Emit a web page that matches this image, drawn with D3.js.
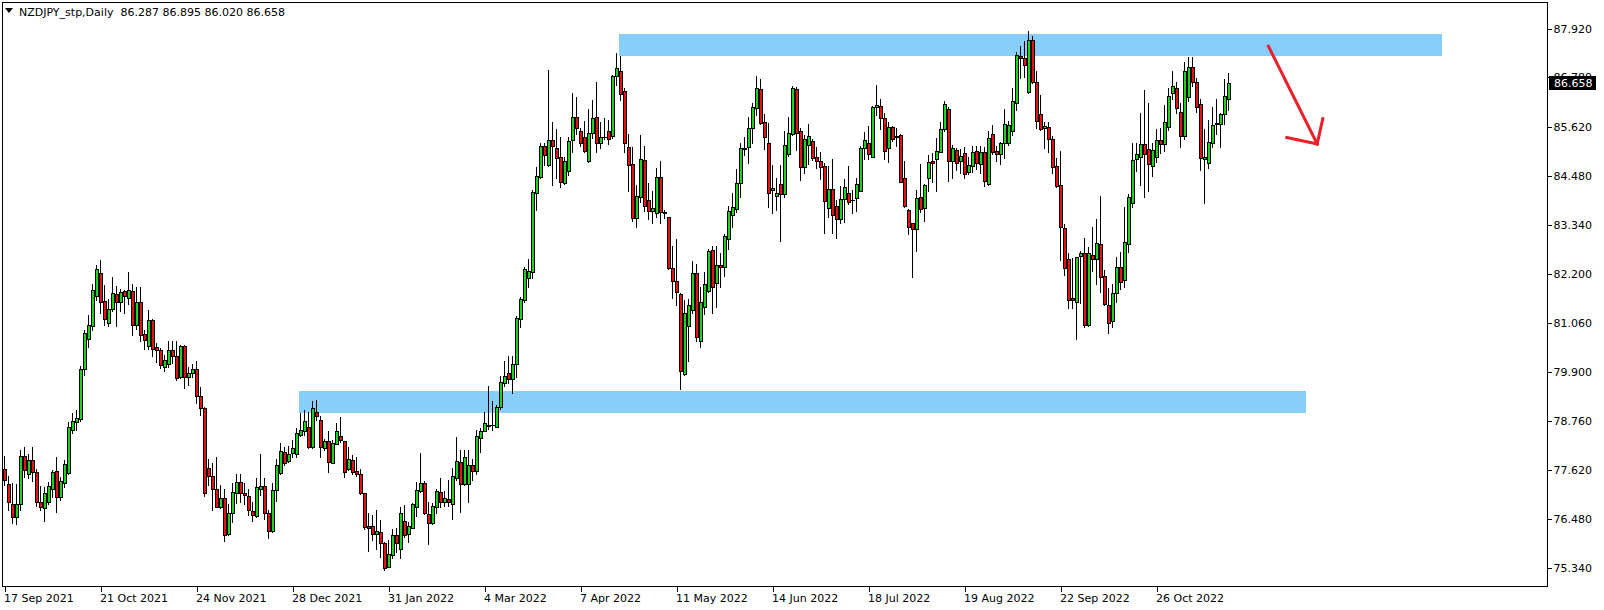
<!DOCTYPE html>
<html><head><meta charset="utf-8">
<script src="https://cdn.jsdelivr.net/npm/d3@7"></script>
<style>
html,body{margin:0;padding:0;background:#fff;}
svg{display:block;}
text{font-family:"DejaVu Sans",sans-serif;}
</style></head>
<body>
<svg id="chart" width="1604" height="610"></svg>
<script>
// ---- DATA ----
const symbolTitle = "NZDJPY_stp,Daily";
const open = [
77.64,77.30,76.84,76.52,76.84,77.95,77.53,77.86,77.57,76.87,
76.73,76.88,77.17,77.61,77.00,77.31,77.56,78.56,78.73,78.80,
79.97,80.67,80.99,81.67,82.21,81.57,81.06,81.37,81.73,81.55,
81.80,81.63,81.80,81.00,81.55,80.80,80.52,81.11,80.48,80.42,
80.03,80.10,80.41,80.28,79.78,80.52,79.80,79.89,79.97,79.35,
79.06,77.66,77.48,77.18,76.77,76.96,76.13,76.61,77.08,77.35,
77.08,77.01,76.66,76.55,77.19,77.25,76.62,76.20,77.15,77.56,
78.05,77.84,78.01,77.99,78.45,78.54,78.62,78.17,78.97,78.79,
78.14,78.31,77.79,78.24,78.41,78.30,77.65,77.85,77.60,77.53,
77.08,76.32,76.31,76.14,76.17,75.93,75.37,75.65,76.10,75.77,
76.43,76.14,76.28,76.77,77.14,77.31,76.59,76.38,76.77,77.11,
76.87,76.94,76.84,77.44,77.81,77.29,77.30,77.75,77.60,78.37,
78.53,78.65,78.66,78.63,79.08,79.66,79.88,79.74,80.09,81.14,
81.59,82.11,82.23,84.09,84.45,85.17,84.74,85.31,85.13,84.92,
84.31,84.60,85.31,85.85,85.52,85.40,84.82,85.49,85.85,85.24,
85.38,85.53,85.42,86.82,86.93,86.46,85.15,84.76,83.49,84.00,
84.85,83.92,83.67,83.61,84.45,83.63,83.52,82.33,82.02,81.72,
79.86,80.97,81.35,82.21,80.62,81.43,81.80,82.75,81.99,82.40,
82.35,83.00,83.57,83.71,84.31,85.11,85.16,85.59,86.06,86.51,
85.73,85.24,84.15,84.02,84.29,84.05,84.99,85.46,86.50,85.53,
84.68,85.20,85.30,84.92,84.83,84.71,83.73,84.17,83.78,83.47,
83.94,84.08,83.91,83.96,84.14,85.13,85.24,84.93,86.08,86.11,
85.83,85.13,85.63,85.39,85.44,84.43,83.69,83.38,83.24,84.00,
83.73,84.43,84.83,84.87,85.05,85.57,86.04,84.84,85.09,84.84,
85.01,84.58,84.72,85.06,84.76,85.03,84.29,85.46,85.06,84.99,
85.24,85.24,85.54,86.18,87.28,87.23,86.45,87.65,86.67,85.92,
85.59,85.62,85.34,84.71,84.27,83.26,82.54,81.63,81.53,82.62,
82.68,81.00,82.64,82.54,82.89,82.15,81.47,81.10,81.75,82.35,
82.05,82.90,83.84,84.87,84.92,85.22,85.10,84.71,84.92,85.32,
85.22,85.62,86.41,86.53,85.97,85.42,86.33,87.02,86.68,86.16,
84.88,84.78,85.24,85.69,85.69,85.92,86.287
];
const high = [
77.95,77.48,77.33,77.30,78.10,78.17,78.00,78.15,77.64,77.25,
77.23,77.35,77.62,77.92,77.47,77.86,78.73,78.96,79.02,80.05,
80.89,81.24,81.96,82.40,82.52,81.94,81.60,82.13,81.91,81.84,
81.82,82.23,81.96,81.90,81.90,80.89,81.35,81.14,80.59,80.46,
80.31,80.62,80.62,80.62,80.54,80.54,80.02,80.10,80.17,79.55,
79.10,77.89,77.78,77.92,77.27,77.19,76.84,77.31,77.54,77.54,
77.31,77.19,76.88,77.43,77.99,77.43,76.69,77.31,77.89,78.26,
78.15,78.18,78.32,78.59,78.94,79.02,78.98,79.22,79.25,78.87,
78.34,78.52,78.32,78.72,78.85,78.31,78.17,77.97,77.92,77.64,
77.09,76.61,76.57,76.69,76.45,75.95,75.99,76.24,76.28,76.77,
76.80,76.42,76.86,77.35,78.03,77.37,76.88,76.86,77.19,77.43,
77.14,77.39,77.66,78.40,78.09,78.10,78.09,77.89,78.55,78.59,
78.98,79.58,79.24,79.14,79.82,80.16,80.28,80.27,81.21,81.65,
82.35,82.54,84.16,84.68,85.26,85.24,86.95,85.75,85.57,85.40,
84.93,85.38,86.41,86.33,85.59,85.77,86.04,86.25,86.67,85.75,
85.83,85.79,86.84,87.34,87.27,86.54,85.45,85.15,84.27,85.44,
85.18,84.31,84.12,84.66,84.83,83.69,83.53,82.85,83.00,81.74,
81.59,81.60,82.50,82.43,81.88,82.23,82.77,82.85,82.85,82.69,
83.13,83.77,84.08,84.64,85.24,85.40,85.85,86.19,86.81,86.74,
85.93,85.72,84.74,84.43,84.74,85.52,85.85,86.58,86.56,85.59,
85.44,85.69,85.34,85.15,85.05,84.79,84.71,84.88,83.92,84.25,
84.41,84.71,84.15,84.43,85.18,85.51,85.65,86.11,86.60,86.27,
85.96,85.73,85.65,85.59,85.46,84.82,83.70,83.39,84.15,84.76,
84.29,84.97,85.01,85.37,85.75,86.24,86.10,85.20,85.13,85.10,
85.16,84.92,85.18,85.18,85.17,85.15,85.54,85.67,85.18,85.28,
86.04,85.76,86.53,87.38,87.51,87.63,87.86,87.75,86.92,86.37,
85.75,85.73,85.41,84.89,85.06,83.36,82.69,82.56,82.60,82.74,
83.03,82.82,83.28,83.47,84.01,82.29,81.86,81.95,82.60,82.70,
83.76,84.06,85.26,85.24,85.94,86.49,86.18,85.26,85.57,85.59,
86.14,86.53,86.92,86.68,86.18,87.13,87.25,87.25,86.76,86.27,
85.57,85.79,86.10,86.27,85.94,86.74,86.895
];
const low = [
77.27,76.69,76.38,76.36,76.70,77.47,77.43,77.37,76.78,76.69,
76.44,76.83,77.00,76.65,76.92,77.23,77.53,78.49,78.56,78.77,
79.84,80.48,80.89,81.59,81.28,81.00,80.98,81.32,80.98,81.32,
81.28,81.49,80.77,80.90,80.64,80.44,80.44,80.28,80.13,79.99,
79.94,80.03,80.11,79.71,79.76,79.53,79.61,79.80,79.19,78.91,
77.02,77.27,76.69,76.75,76.73,75.97,76.10,76.42,76.86,76.88,
76.84,76.57,76.44,76.53,77.04,76.49,76.03,76.18,76.91,77.53,
77.74,77.82,77.92,77.93,78.42,78.44,78.13,78.14,78.79,77.92,
78.09,77.58,77.78,78.23,78.28,77.47,77.62,77.53,77.49,77.06,
76.24,75.74,75.99,75.79,75.60,75.30,75.35,75.56,75.72,75.58,
76.07,75.95,76.26,76.55,77.12,76.59,75.90,76.36,76.61,76.77,
76.78,76.78,76.49,77.39,76.65,77.27,76.88,77.40,77.53,78.05,
78.52,78.57,78.56,78.62,79.04,79.57,79.64,79.41,79.78,80.95,
81.55,81.90,82.11,83.69,84.43,84.74,84.71,84.27,84.43,84.23,
84.29,84.50,85.03,85.46,85.18,85.03,84.80,85.36,85.03,85.13,
85.34,85.23,85.36,86.60,86.25,85.05,84.12,83.44,83.30,83.88,
83.67,83.47,83.38,83.53,83.39,83.49,82.30,81.63,81.47,79.50,
79.84,80.17,81.29,80.64,80.48,81.26,81.78,81.28,81.43,81.88,
82.15,82.77,83.30,83.65,83.98,84.97,84.78,85.26,85.90,85.69,
85.10,83.75,83.61,83.69,82.97,84.00,84.95,85.44,85.09,84.39,
84.56,84.76,84.85,84.66,84.40,83.14,83.53,83.14,83.03,83.39,
83.41,83.83,83.61,83.67,84.13,84.87,84.87,84.92,85.90,85.57,
84.87,84.80,85.30,85.18,84.33,83.76,83.13,82.13,82.74,83.65,
83.44,84.12,84.35,84.14,85.03,85.52,84.37,84.43,84.62,84.54,
84.43,84.53,84.58,84.64,84.54,84.25,84.27,84.99,84.82,84.76,
84.89,85.20,85.44,86.01,86.76,86.78,86.41,86.64,85.59,85.56,
85.14,85.05,84.54,84.22,82.52,82.17,81.39,81.39,80.67,81.51,
80.95,80.98,82.27,81.96,81.78,81.47,80.81,80.95,81.55,81.85,
81.90,82.70,83.76,84.60,84.27,84.00,84.14,84.47,84.81,85.01,
85.07,85.55,86.27,85.96,85.15,85.34,86.22,86.57,85.98,84.62,
83.84,84.66,85.15,85.46,85.15,85.69,86.020
];
const close = [
77.39,76.88,76.52,76.83,77.95,77.62,77.86,77.57,76.87,76.75,
77.08,77.25,77.58,77.00,77.37,77.76,78.63,78.77,78.83,79.97,
80.81,81.00,81.82,82.30,81.55,81.14,81.37,81.74,81.55,81.77,
81.69,81.82,81.00,81.55,80.77,80.66,81.11,80.45,80.41,80.07,
80.19,80.42,80.28,79.76,80.52,79.78,79.89,79.97,79.35,79.06,
77.08,77.48,77.19,76.77,76.98,76.11,76.61,77.10,77.35,77.08,
77.05,76.69,76.57,77.22,77.25,76.61,76.20,77.15,77.74,78.06,
77.78,77.99,78.13,78.48,78.55,78.77,78.17,79.06,78.87,78.15,
78.30,77.82,78.26,78.53,78.32,77.57,77.89,77.58,77.54,77.08,
76.30,76.28,76.14,76.20,75.93,75.33,75.66,76.10,75.91,76.61,
76.10,76.32,76.82,77.15,77.31,76.61,76.38,76.78,77.13,76.87,
76.98,76.87,77.48,77.83,77.29,77.92,77.75,77.61,78.41,78.53,
78.71,78.67,78.67,79.10,79.67,79.82,79.74,80.09,81.16,81.60,
82.30,82.26,84.10,84.48,85.19,84.96,85.31,85.17,84.89,84.33,
84.83,85.30,85.85,85.59,85.26,85.07,85.49,85.83,85.24,85.38,
85.39,85.34,86.81,86.99,86.39,85.24,84.74,83.49,84.01,84.87,
83.79,83.67,83.73,84.45,83.63,83.62,82.33,82.02,81.78,79.94,
81.29,81.46,82.21,80.72,81.53,81.95,82.74,81.88,82.40,82.35,
83.08,83.66,83.75,84.31,85.13,85.14,85.59,86.08,86.53,85.72,
85.38,84.08,84.19,84.09,84.05,85.20,85.48,86.54,85.48,84.70,
85.34,85.41,84.91,84.84,84.70,83.90,84.17,83.56,83.47,83.94,
84.22,83.88,83.92,84.29,85.13,85.32,84.99,86.08,86.13,85.83,
85.07,85.62,85.34,85.41,84.33,83.79,83.28,83.24,83.96,83.70,
84.27,84.80,84.79,85.06,85.57,86.16,84.84,85.13,84.78,84.95,
84.52,84.74,85.03,84.78,85.03,84.37,85.36,85.05,84.99,85.24,
85.69,85.66,86.23,87.30,87.23,87.06,87.65,86.67,85.77,85.57,
85.65,85.34,84.68,84.25,83.28,82.33,81.59,81.59,82.58,82.69,
81.00,82.68,82.54,82.91,82.13,81.50,81.06,81.75,82.35,82.00,
82.95,84.00,84.85,84.99,85.22,84.99,84.75,85.09,85.31,85.22,
85.73,86.35,86.58,86.06,85.42,86.93,87.02,86.67,86.08,84.89,
84.93,85.27,85.67,85.71,85.92,86.35,86.658
];
// date axis: label every 24 bars
const dateTickIndex = [0,24,48,72,96,120,144,168,192,216,240,264,288];
const dateTickLabels = ["17 Sep 2021","21 Oct 2021","24 Nov 2021","28 Dec 2021","31 Jan 2022","4 Mar 2022","7 Apr 2022","11 May 2022","14 Jun 2022","18 Jul 2022","19 Aug 2022","22 Sep 2022","26 Oct 2022"];
const priceTicks = [87.920,86.780,85.620,84.480,83.340,82.200,81.060,79.900,78.760,77.620,76.480,75.340];
// drawn zones [startBar, endBar, topPrice, bottomPrice]
const zoneStart = [153.75, 73.75];
const zoneEnd   = [359.5, 325.5];
const zoneTop   = [87.79, 79.46];
const zoneBottom= [87.27, 78.96];
// red arrow (bar index, price)
const arrowBar   = [316.1, 328.3];
const arrowPrice = [87.51, 85.23];
const arrowWingBar   = [320.7, 329.7];
const arrowWingPrice = [85.38, 85.82];

// ---- LAYOUT ----
const W = 1604, H = 610;
const plotL = 2, plotT = 2, plotR = 1547, plotB = 586;
const n = close.length;
const x = d3.scaleLinear().domain([0, n - 1]).range([4, 4 + 4 * (n - 1)]);
const y = d3.scaleLinear().domain([75.34, 87.92]).range([567.8, 28.6]);
const upColor = "#22d022", downColor = "#e01414";

const svg = d3.select("#chart");
svg.append("rect").attr("width", W).attr("height", H).attr("fill", "#fff");

svg.append("clipPath").attr("id", "plotclip")
  .append("rect").attr("x", plotL + 1).attr("y", plotT + 1)
  .attr("width", plotR - plotL - 1).attr("height", plotB - plotT - 1);

const plot = svg.append("g").attr("clip-path", "url(#plotclip)").attr("shape-rendering", "crispEdges");

// zones (background)
plot.selectAll("rect.zone").data(zoneStart).join("rect")
  .attr("class", "zone")
  .attr("x", (d, i) => Math.round(x(d)))
  .attr("y", (d, i) => Math.round(y(zoneTop[i])))
  .attr("width", (d, i) => Math.round(x(zoneEnd[i])) - Math.round(x(d)))
  .attr("height", (d, i) => Math.round(y(zoneBottom[i])) - Math.round(y(zoneTop[i])))
  .attr("fill", "#87cefa");

// candles
const bars = d3.range(n);
const cg = plot.append("g");
bars.forEach(i => {
  const cx = Math.round(x(i));
  const o = open[i], c = close[i], h = high[i], l = low[i];
  cg.append("line")
    .attr("x1", cx + 0.5).attr("x2", cx + 0.5)
    .attr("y1", Math.round(y(h))).attr("y2", Math.round(y(l)) + 1)
    .attr("stroke", "#000").attr("stroke-width", 1);
  const top = Math.round(y(Math.max(o, c)));
  const bot = Math.round(y(Math.min(o, c)));
  cg.append("rect").attr("x", cx - 1).attr("y", top)
    .attr("width", 4).attr("height", Math.max(1, bot - top + 1))
    .attr("fill", "#000");
  if (bot - top >= 2) {
    cg.append("rect").attr("x", cx).attr("y", top + 1)
      .attr("width", 2).attr("height", bot - top - 1)
      .attr("fill", c >= o ? upColor : downColor);
  }
});

// arrow
const arrowG = svg.append("g").attr("fill", "none").attr("stroke", "#e8212b")
  .attr("stroke-width", 3).attr("stroke-linecap", "square");
arrowG.append("line")
  .attr("x1", x(arrowBar[0])).attr("y1", y(arrowPrice[0]))
  .attr("x2", x(arrowBar[1])).attr("y2", y(arrowPrice[1]));
arrowWingBar.forEach((b, k) => {
  arrowG.append("line")
    .attr("x1", x(b)).attr("y1", y(arrowWingPrice[k]))
    .attr("x2", x(arrowBar[1])).attr("y2", y(arrowPrice[1]));
});

// frame
svg.append("rect").attr("x", plotL + 0.5).attr("y", plotT + 0.5)
  .attr("width", plotR - plotL).attr("height", plotB - plotT)
  .attr("fill", "none").attr("stroke", "#000").attr("stroke-width", 1)
  .attr("shape-rendering", "crispEdges");

// price axis
const yAxis = d3.axisRight(y).tickValues(priceTicks).tickFormat(d3.format(".3f"))
  .tickSize(4).tickPadding(2);
const yg = svg.append("g").attr("transform", `translate(${plotR + 0.5},0)`).call(yAxis);
yg.select(".domain").remove();
yg.selectAll("line").attr("stroke", "#000").attr("shape-rendering", "crispEdges");
yg.selectAll("text").attr("font-family", "DejaVu Sans").attr("font-size", 11).attr("fill", "#000");
yg.attr("font-family", null).attr("font-size", null);

// date axis
const xAxis = d3.axisBottom(x).tickValues(dateTickIndex)
  .tickFormat((d, i) => dateTickLabels[i]).tickSize(5).tickPadding(3);
const xg = svg.append("g").attr("transform", `translate(0.5,${plotB + 0.5})`).call(xAxis);
xg.select(".domain").remove();
xg.selectAll("line").attr("stroke", "#000").attr("shape-rendering", "crispEdges");
xg.selectAll("text").attr("font-family", "DejaVu Sans").attr("font-size", 11)
  .attr("fill", "#000").attr("text-anchor", "start").attr("x", -1);

// current price label (covers the neighbouring grid label as in the original)
const last = close[n - 1];
const ly = Math.round(y(last));
svg.append("rect").attr("x", 1549).attr("y", ly - 7).attr("width", 47).attr("height", 14)
  .attr("fill", "#000").attr("shape-rendering", "crispEdges");
svg.append("text").attr("x", plotR + 7).attr("y", ly).attr("dy", "0.35em")
  .attr("font-size", 11).attr("fill", "#fff").text(d3.format(".3f")(last));

// header
svg.append("path").attr("d", "M5,8 L13,8 L9,13 Z").attr("fill", "#000");
svg.append("text").attr("x", 19).attr("y", 16).attr("font-size", 11).attr("fill", "#000")
  .attr("xml:space", "preserve")
  .text(`${symbolTitle}  ${d3.format(".3f")(open[n-1])} ${d3.format(".3f")(high[n-1])} ${d3.format(".3f")(low[n-1])} ${d3.format(".3f")(last)}`);
</script>
</body></html>
